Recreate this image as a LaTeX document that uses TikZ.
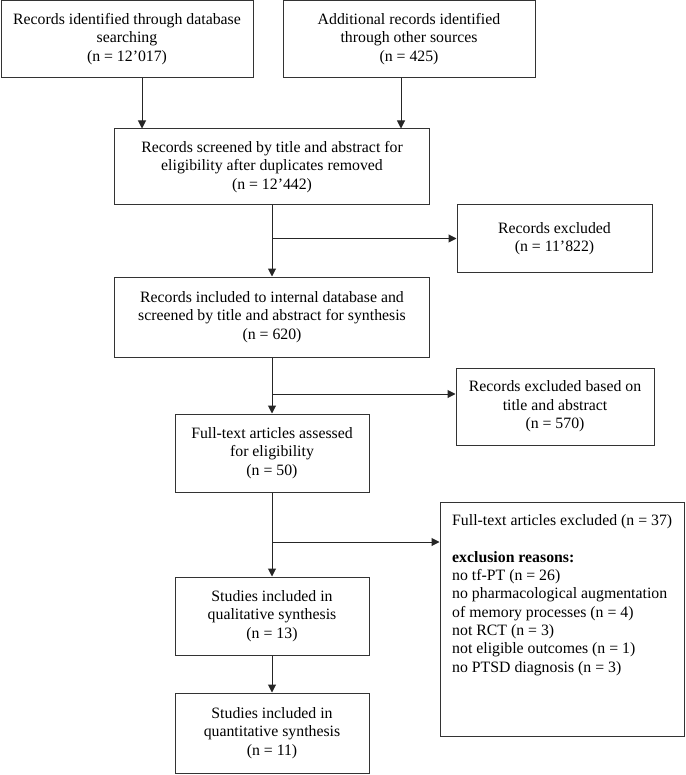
\documentclass[tikz,border=0pt]{standalone}
\usepackage{fontspec}
\setmainfont{Liberation Serif}
\usetikzlibrary{arrows.meta}

\begin{document}
\begin{tikzpicture}
[
    x=1pt, y=1pt,
    box/.style={draw=black!80, line width=1pt, align=center, inner sep=0pt,
        font=\fontsize{15.8}{18.5}\selectfont},
    txt/.style={inner sep=0pt, align=left, font=\fontsize{15.8}{18.3}\selectfont},
    arr/.style={draw=black!85, line width=1pt, -{Triangle[length=8pt,width=8pt]}},
]
\useasboundingbox (0,0) rectangle (685,-775);

% sources
\node[box, minimum width=252pt, minimum height=77pt] (dbsearch) at (127,-39)
    {Records identified through database\\searching\\(n = 12’017)};
\node[box, minimum width=252pt, minimum height=77pt] (othersrc) at (409,-39)
    {Additional records identified\\through other sources\\(n = 425)};

% main column
\node[box, minimum width=315pt, minimum height=76pt] (screened) at (272,-167)
    {Records screened by title and abstract for\\eligibility after duplicates removed\\(n = 12’442)};
\node[box, minimum width=315pt, minimum height=80pt] (internal) at (272,-317)
    {Records included to internal database and\\screened by title and abstract for synthesis\\(n = 620)};
\node[box, minimum width=194pt, minimum height=78pt] (fulltext) at (272,-453)
    {Full-text articles assessed\\for eligibility\\(n = 50)};
\node[box, minimum width=194pt, minimum height=78pt] (qualitative) at (272,-616)
    {Studies included in\\qualitative synthesis\\(n = 13)};
\node[box, minimum width=194pt, minimum height=80pt] (quantitative) at (272,-733)
    {Studies included in\\quantitative synthesis\\(n = 11)};

% exclusions
\node[box, minimum width=195pt, minimum height=67pt] (excl1) at (554.5,-238.5)
    {Records excluded\\(n = 11’822)};
\node[box, minimum width=198pt, minimum height=77pt] (excl2) at (555,-406.5)
    {Records excluded based on\\title and abstract\\(n = 570)};
\node[box, minimum width=244pt, minimum height=234pt] (excl3) at (562,-619) {};
\node[txt, anchor=north west] (excl3txt) at (452,-514.5)
    {Full-text articles excluded (n = 37)\\[18.3pt]
     \textbf{exclusion reasons:}\\
     no tf-PT (n = 26)\\
     no pharmacological augmentation\\
     of memory processes (n = 4)\\
     not RCT (n = 3)\\
     not eligible outcomes (n = 1)\\
     no PTSD diagnosis (n = 3)};

% connectors
\coordinate (br1) at (272,-238.5);
\coordinate (br2) at (272,-394);
\coordinate (br3) at (272,-542);
\draw[arr] (dbsearch.south -| 142,0) -- (screened.north -| 142,0);
\draw[arr] (othersrc.south -| 401,0) -- (screened.north -| 401,0);
\draw[arr] (screened.south) -- (internal.north);
\draw[arr] (br1) -- (excl1.west);
\draw[arr] (internal.south) -- (fulltext.north);
\draw[arr] (br2) -- (br2 -| excl2.west);
\draw[arr] (fulltext.south) -- (qualitative.north);
\draw[arr] (br3) -- (br3 -| excl3.west);
\draw[arr] (qualitative.south) -- (quantitative.north);
\end{tikzpicture}
\end{document}
